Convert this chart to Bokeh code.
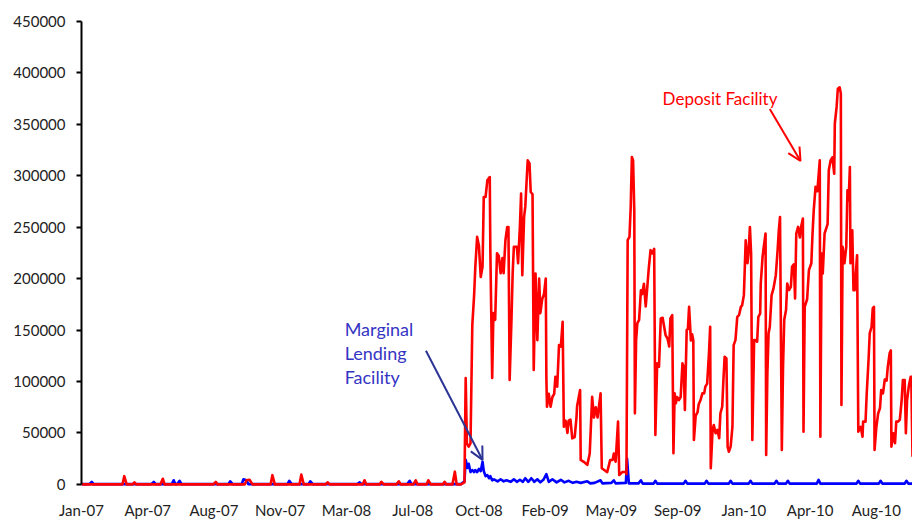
from bokeh.plotting import figure
from bokeh.models import Range1d, FixedTicker, Label, Arrow, OpenHead, BasicTickFormatter
from bokeh.embed import file_html
from bokeh.resources import INLINE

# x positions are days since 1 Jan 2007
tick_days = [0, 110, 220, 330, 440, 550, 660, 770, 880, 990, 1100, 1210, 1320]
tick_labels = ["Jan-07", "Apr-07", "Aug-07", "Nov-07", "Mar-08", "Jul-08", "Oct-08",
               "Feb-09", "May-09", "Sep-09", "Jan-10", "Apr-10", "Aug-10"]
y_ticks = [0, 50000, 100000, 150000, 200000, 250000, 300000, 350000, 400000, 450000]

deposit_day = [0, 68, 71, 75, 85, 88, 91, 131, 135, 138, 219, 223, 226, 271, 274, 279, 284,
               314, 317, 321, 362, 365, 369, 405, 409, 412, 467, 470, 473, 495, 498, 502,
               523, 527, 530, 551, 555, 558, 573, 576, 580, 600, 603, 606, 616, 620, 623,
               630, 636, 638, 640, 643, 646, 649, 652, 654, 657, 660, 663, 666, 668, 671,
               674, 678, 679, 682, 684, 687, 690, 693, 696, 699, 701, 704, 707, 709, 711,
               714, 716, 718, 723, 725, 728, 730, 732, 735, 737, 739, 741, 744, 746, 749,
               751, 754, 757, 760, 762, 765, 768, 771, 772, 773, 776, 779, 782, 785, 787,
               790, 793, 796, 799, 801, 804, 807, 809, 812, 815, 819, 822, 823, 828, 829,
               834, 840, 844, 848, 851, 854, 857, 862, 864, 868, 873, 878, 882, 884, 887,
               891, 893, 898, 904, 905, 907, 910, 912, 914, 916, 918, 919, 921, 923, 926,
               929, 931, 934, 937, 940, 942, 945, 948, 951, 953, 956, 959, 962, 965, 970,
               973, 976, 978, 981, 983, 985, 987, 989, 992, 995, 998, 1000, 1002, 1005,
               1007, 1009, 1012, 1014, 1016, 1017, 1020, 1023, 1025, 1028, 1031, 1034,
               1036, 1039, 1042, 1044, 1045, 1048, 1050, 1053, 1056, 1059, 1061, 1064,
               1066, 1068, 1071, 1073, 1075, 1078, 1081, 1083, 1086, 1089, 1092, 1095,
               1097, 1100, 1103, 1106, 1108, 1110, 1112, 1114, 1117, 1119, 1122, 1124,
               1127, 1128, 1131, 1133, 1136, 1137, 1139, 1141, 1143, 1146, 1149, 1153,
               1156, 1158, 1160, 1163, 1165, 1167, 1170, 1172, 1175, 1178, 1180, 1183,
               1185, 1187, 1190, 1193, 1195, 1198, 1199, 1201, 1205, 1208, 1212, 1214,
               1216, 1219, 1222, 1226, 1227, 1229, 1231, 1234, 1239, 1241, 1244, 1247,
               1250, 1251, 1254, 1256, 1259, 1261, 1262, 1264, 1267, 1270, 1272, 1274,
               1276, 1277, 1280, 1282, 1284, 1287, 1288, 1290, 1294, 1297, 1298, 1302,
               1304, 1307, 1309, 1312, 1314, 1316, 1317, 1320, 1323, 1326, 1328, 1331,
               1334, 1337, 1339, 1342, 1344, 1345, 1348, 1351, 1353, 1356, 1359, 1362,
               1364, 1367, 1369, 1371, 1374, 1377, 1378, 1380]
deposit_val = [0, 0, 8000, 0, 0, 2000, 0, 0, 5500, 0, 0, 2500, 0, 0, 4000, 4500, 0,
               0, 9000, 0, 0, 9500, 0, 0, 2000, 0, 0, 4000, 0, 0, 2500, 0,
               0, 3000, 0, 0, 4000, 0, 0, 4000, 0, 0, 2500, 0, 0, 12400, 0,
               0, 2000, 103400, 40000, 36700, 40000, 154900, 184000, 211500, 240600, 232000, 201700, 211500, 279400, 279400,
               295600, 298800, 224700, 103400, 166500, 160000, 224700, 222000, 205300, 220000, 205300, 237400, 250300, 250300, 101500,
               159700, 205000, 230900, 230900, 215000, 250300, 282700, 203400, 260000, 270000, 293000, 315000, 312000, 284300, 282000,
               111200, 205000, 140300, 200000, 166500, 180000, 185000, 200200, 103400, 75500, 88000, 75500, 85000, 88000, 104700,
               95000, 135400, 134000, 158100, 56100, 62000, 50000, 62000, 63000, 44800, 46000, 65000, 76000, 91700, 23800,
               22000, 19000, 30000, 85200, 65000, 75000, 65000, 88500, 15700, 14000, 12000, 23800, 23800, 30000, 22000,
               61000, 9200, 12000, 12000, 10000, 237400, 240600, 269000, 318300, 315000, 265000, 69100, 140000, 156500, 160000,
               188800, 185000, 195000, 173000, 195000, 209900, 227700, 224500, 229000, 48100, 117700, 114400, 161400, 162000, 145000,
               142000, 134000, 161400, 164600, 30300, 88500, 79000, 85000, 82000, 85000, 117700, 114400, 72300, 150000,
               151000, 172600, 140000, 146000, 140000, 43200, 67000, 70000, 78000, 82000, 88500, 88500,
               95000, 98000, 127400, 153200, 15700, 53000, 57800, 49700, 53000, 45000, 69100, 75500,
               101500, 124100, 122500, 36700, 31800, 36700, 56100, 135400, 140300, 162900, 164600, 172600,
               174000, 184000, 237400, 215000, 227700, 250300, 224000, 43200, 140300, 140300, 138700, 162900,
               166000, 195300, 221000, 231000, 243900, 28600, 108000, 147000, 153000, 184000, 190000, 203400,
               227700, 247000, 260000, 33500, 114400, 160000, 169500, 195300, 189000, 192000, 211500, 214000,
               180800, 243900, 250300, 240000, 250300, 258400, 51300, 172600, 180000, 208300, 215000, 243900,
               266500, 289200, 285000, 315000, 46400, 224500, 205000, 243900, 253000, 305300, 315000, 318000,
               302000, 350700, 367000, 384600, 386000, 380000, 77200, 230900, 215000, 230900, 285900, 276000,
               308600, 215000, 247100, 188800, 188800, 215000, 222800, 51300, 56000, 46400, 61000, 61000,
               88500, 120900, 147000, 153000, 171100, 172600, 33500, 56000, 69100, 74000, 91700, 88500,
               102000, 101000, 114400, 127400, 130300, 36700, 49700, 40000, 61000, 61000, 63000, 82000,
               101500, 101500, 49700, 82000, 96000, 104700, 104700, 27000]

lending_day = [0, 13, 17, 20, 116, 120, 123, 150, 153, 156, 159, 163, 166, 244, 247, 251,
               266, 269, 274, 277, 342, 345, 349, 377, 380, 384, 458, 462, 465, 541, 545, 548,
               630, 636, 638, 641, 643, 646, 649, 652, 654, 657, 660, 663, 666, 668, 671, 674,
               677, 679, 682, 685, 688, 691, 696, 701, 706, 713, 718, 723, 728, 733, 737, 742,
               747, 752, 757, 762, 767, 772, 776, 782, 789, 796, 802, 809, 816, 822, 829, 840,
               845, 852, 862, 865, 880, 884, 887, 904, 906, 909, 925, 929, 932, 950, 953, 956,
               1000, 1003, 1006, 1035, 1038, 1041, 1075, 1078, 1081, 1108, 1111, 1114, 1151, 1154,
               1157, 1170, 1173, 1176, 1221, 1224, 1227, 1287, 1290, 1293, 1324, 1327, 1330, 1367,
               1370, 1373, 1380]
lending_val = [300, 300, 2500, 300, 300, 2500, 300, 300, 4000, 300, 300, 3500, 300, 300, 3000, 300,
               300, 5000, 4000, 300, 300, 3500, 300, 300, 3000, 300, 300, 2000, 300, 300, 3500, 300,
               300, 3000, 24000, 16000, 20000, 12000, 14000, 12000, 14000, 12000, 15000, 13000, 22100, 13000, 8000, 9000,
               6000, 8000, 4000, 5000, 4000, 3000, 5000, 3000, 4000, 2500, 5000, 2500, 4500, 2500, 6000, 2500,
               6000, 2500, 5000, 2000, 4500, 10000, 2500, 5000, 2000, 4500, 2000, 3500, 1500, 2500, 1500, 3000,
               1000, 1500, 4000, 1000, 1500, 4000, 1000, 1500, 25000, 1000, 1000, 4000, 800, 800, 3500, 800,
               800, 3500, 800, 800, 3500, 800, 800, 3500, 800, 800, 3500, 800, 800, 3500,
               800, 800, 3500, 800, 800, 4400, 800, 800, 3500, 800, 800, 3500, 800, 800,
               3500, 800, 800]

FONT = "Lato"

p = figure(width=912, height=521, output_backend="svg", toolbar_location=None,
           x_range=Range1d(0, 1380), y_range=Range1d(-3000, 450000),
           min_border_left=81, min_border_right=0, min_border_top=21, min_border_bottom=33)
p.background_fill_color = "white"
p.border_fill_color = "white"
p.outline_line_color = None
p.xgrid.visible = False
p.ygrid.visible = False

p.line(lending_day, lending_val, line_color="#0000FF", line_width=2.6, line_join="round")
p.line(deposit_day, deposit_val, line_color="#FF0000", line_width=2.6, line_join="round")

xa = p.xaxis[0]
xa.ticker = FixedTicker(ticks=tick_days)
xa.major_label_overrides = {d: l for d, l in zip(tick_days, tick_labels)}
xa.axis_line_color = None
xa.major_tick_line_color = None
xa.major_tick_out = 0
xa.major_tick_in = 0
xa.minor_tick_line_color = None
xa.major_label_standoff = 13
xa.major_label_text_font = FONT
xa.major_label_text_font_size = "15px"
xa.major_label_text_color = "#222222"

ya = p.yaxis[0]
ya.ticker = FixedTicker(ticks=y_ticks)
ya.formatter = BasicTickFormatter(use_scientific=False)
ya.bounds = (0, 450000)
ya.axis_line_color = "black"
ya.axis_line_width = 2
ya.major_tick_line_color = "black"
ya.major_tick_line_width = 2
ya.major_tick_out = 5
ya.major_tick_in = 0
ya.minor_tick_line_color = None
ya.major_label_standoff = 11
ya.major_label_text_font = FONT
ya.major_label_text_font_size = "15px"
ya.major_label_text_color = "#222222"

p.add_layout(Label(x=965, y=375500, text="Deposit Facility", text_color="#FF0000",
                   text_font=FONT, text_font_size="17px", text_baseline="alphabetic"))
p.add_layout(Arrow(end=OpenHead(size=13, line_color="#FF0000", line_width=2),
                   x_start=1143, y_start=365000, x_end=1194, y_end=314400,
                   line_color="#FF0000", line_width=2))

blue_txt = "#3535C4"
for txt, yy in [("Marginal", 150800), ("Lending", 127500), ("Facility", 104900)]:
    p.add_layout(Label(x=437, y=yy, text=txt, text_color=blue_txt, text_font=FONT,
                       text_font_size="18px", text_baseline="alphabetic"))
p.add_layout(Arrow(end=OpenHead(size=13, line_color="#2B3494", line_width=2),
                   x_start=572, y_start=129900, x_end=666, y_end=23800,
                   line_color="#2B3494", line_width=2))

open("out.html", "w").write(file_html(p, INLINE))
